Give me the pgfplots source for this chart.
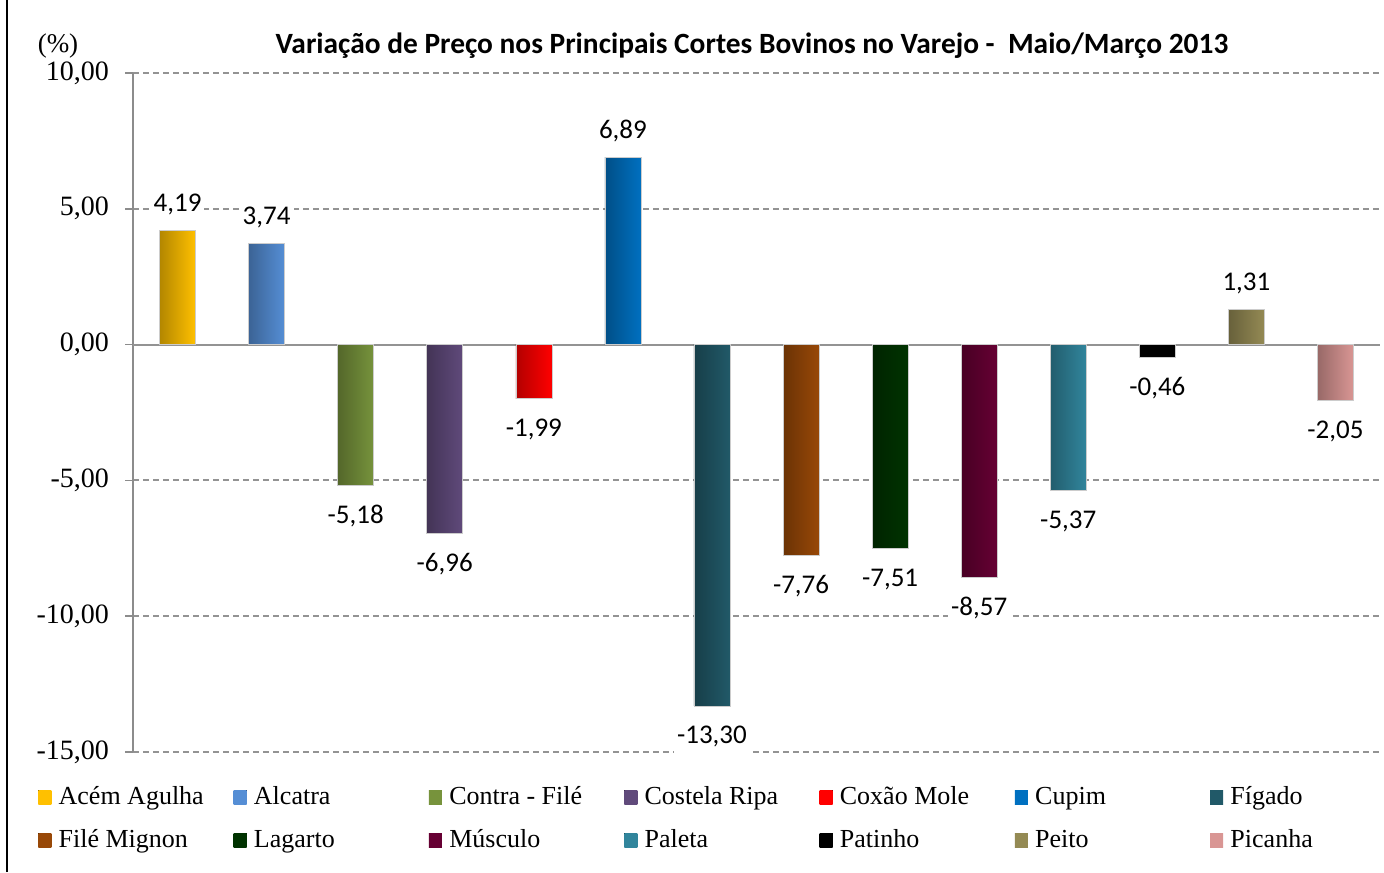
\documentclass[border=0pt]{standalone}
\usepackage{fontspec}
\setmainfont{Liberation Serif}
\newfontfamily\carlito{Carlito}
\usepackage{pgfplots}
\pgfplotsset{compat=1.18}

\definecolor{cAcem}{HTML}{FFC000}
\definecolor{cAlcatra}{HTML}{558ED5}
\definecolor{cContra}{HTML}{77933C}
\definecolor{cCostela}{HTML}{604A7B}
\definecolor{cCoxao}{HTML}{FF0000}
\definecolor{cCupim}{HTML}{0070C0}
\definecolor{cFigado}{HTML}{215968}
\definecolor{cFile}{HTML}{984807}
\definecolor{cLagarto}{HTML}{003300}
\definecolor{cMusculo}{HTML}{660033}
\definecolor{cPaleta}{HTML}{31859C}
\definecolor{cPatinho}{HTML}{000000}
\definecolor{cPeito}{HTML}{948A54}
\definecolor{cPicanha}{HTML}{D99694}

\pgfplotsset{
  barc/.style={draw=gray!40, line width=0.3pt,
    left color=#1!70!black, middle color=#1!75!white, right color=#1,
    legend image code/.code={\fill[draw=none, left color=#1, middle color=#1, right color=#1]
      (0pt,-3.5pt) rectangle (6.5pt,3.5pt); \path (10pt,0pt);}},
}
\newcommand{\lt}[1]{\makebox[87.5pt][l]{#1}}

\begin{document}
\begin{tikzpicture}
\useasboundingbox (0,0) rectangle (692pt,436pt);
\draw[line width=1pt] (3.5pt,0) -- (3.5pt,436pt);
\node[font=\carlito\bfseries\fontsize{14.7}{16}\selectfont] at (376pt,413pt)
  {Variação de Preço nos Principais Cortes Bovinos no Varejo -\ \ Maio/Março 2013};
\node[font=\fontsize{13.5}{15}\selectfont] at (29pt,413pt) {(\%)};
\begin{axis}[
  at={(66.5pt,60pt)}, anchor=south west,
  scale only axis, width=623.5pt, height=339.5pt,
  ybar, bar shift=0pt, bar width=18pt,
  xmin=-0.5, xmax=13.5, ymin=-15, ymax=10,
  ytick={-15,-10,...,10}, xtick=\empty,
  axis x line=none, axis y line=left,
  axis line style={-, draw=gray!90, line width=0.8pt},
  tick align=outside, major tick length=4pt,
  tick style={draw=gray!90, line width=0.8pt},
  /pgf/number format/assume math mode=true,
  yticklabel style={font=\fontsize{14}{15}\selectfont, xshift=-4.5pt,
    /pgf/number format/.cd, fixed, fixed zerofill, precision=2, use comma},
  ymajorgrids,
  grid style={draw=gray!85, line width=0.9pt, dash pattern=on 3pt off 2pt},
  extra y ticks={0}, extra y tick labels={},
  extra y tick style={grid style={solid, draw=gray!85, line width=1pt}},
  nodes near coords={\pgfmathprintnumber[fixed,fixed zerofill,precision=2,use comma,assume math mode=true]{\pgfplotspointmeta}},
  every node near coord/.append style={font=\carlito\fontsize{13.5}{15}\selectfont,
    text=black, fill=white, inner sep=1.5pt, outer sep=5pt,
    text height=12.5pt, text depth=3pt},
  legend columns=7,
  legend style={at={(-0.0762,-0.0471)}, anchor=north west, draw=none, fill=none,
    inner sep=0pt, column sep=0pt, row sep=8.5pt,
    font=\fontsize{13}{15}\selectfont,
    nodes={inner sep=0pt, text height=10pt, text depth=3pt}},
  legend cell align=left,
]
\addplot[barc=cAcem] coordinates {(0,4.19)};
\addlegendentry{\lt{Acém Agulha}}
\addplot[barc=cAlcatra] coordinates {(1,3.74)};
\addlegendentry{\lt{Alcatra}}
\addplot[barc=cContra] coordinates {(2,-5.18)};
\addlegendentry{\lt{Contra - Filé}}
\addplot[barc=cCostela] coordinates {(3,-6.96)};
\addlegendentry{\lt{Costela Ripa}}
\addplot[barc=cCoxao] coordinates {(4,-1.99)};
\addlegendentry{\lt{Coxão Mole}}
\addplot[barc=cCupim] coordinates {(5,6.89)};
\addlegendentry{\lt{Cupim}}
\addplot[barc=cFigado] coordinates {(6,-13.30)};
\addlegendentry{\lt{Fígado}}
\addplot[barc=cFile] coordinates {(7,-7.76)};
\addlegendentry{\lt{Filé Mignon}}
\addplot[barc=cLagarto] coordinates {(8,-7.51)};
\addlegendentry{\lt{Lagarto}}
\addplot[barc=cMusculo] coordinates {(9,-8.57)};
\addlegendentry{\lt{Músculo}}
\addplot[barc=cPaleta] coordinates {(10,-5.37)};
\addlegendentry{\lt{Paleta}}
\addplot[barc=cPatinho] coordinates {(11,-0.46)};
\addlegendentry{\lt{Patinho}}
\addplot[barc=cPeito] coordinates {(12,1.31)};
\addlegendentry{\lt{Peito}}
\addplot[barc=cPicanha] coordinates {(13,-2.05)};
\addlegendentry{\lt{Picanha}}
\end{axis}
\end{tikzpicture}
\end{document}
